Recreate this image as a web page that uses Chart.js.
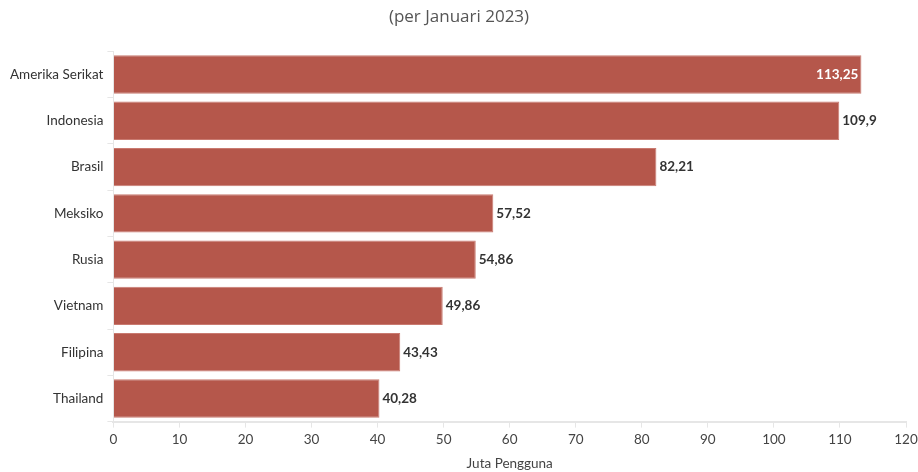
<!DOCTYPE html>
<html>
<head>
<meta charset="utf-8">
<script src="https://cdn.jsdelivr.net/npm/chart.js@4"></script>
<style>
  html, body { margin: 0; padding: 0; background: #fff; }
  #wrap { position: relative; width: 918px; height: 472px; }
</style>
</head>
<body>
<div id="wrap"><canvas id="chart" width="918" height="472"></canvas></div>
<script>
const countries = ['Amerika Serikat', 'Indonesia', 'Brasil', 'Meksiko', 'Rusia', 'Vietnam', 'Filipina', 'Thailand'];
const users = [113.25, 109.9, 82.21, 57.52, 54.86, 49.86, 43.43, 40.28];
const xTicks = [0, 10, 20, 30, 40, 50, 60, 70, 80, 90, 100, 110, 120];

const FONT = 'Lato, "Noto Sans", sans-serif';
const fmt = v => String(v).replace('.', ',');

// value labels at the bar ends; inside in white if the label would not fit
const valueLabels = {
    id: 'valueLabels',
    afterDatasetsDraw(chart) {
        const ctx = chart.ctx;
        const meta = chart.getDatasetMeta(0);
        ctx.save();
        ctx.font = 'bold 13.5px ' + FONT;
        ctx.textBaseline = 'middle';
        meta.data.forEach((bar, i) => {
            const txt = fmt(users[i]);
            const w = ctx.measureText(txt).width;
            if (bar.x + 3 + w > chart.chartArea.right - 6) {
                ctx.fillStyle = '#fff';
                ctx.textAlign = 'right';
                ctx.fillText(txt, bar.x - 3, bar.y);
            } else {
                ctx.fillStyle = '#333';
                ctx.textAlign = 'left';
                ctx.fillText(txt, bar.x + 3, bar.y);
            }
        });
        ctx.restore();
    }
};

new Chart(document.getElementById('chart'), {
    type: 'bar',
    data: {
        labels: countries,
        datasets: [{
            data: users,
            backgroundColor: '#b5574b',
            borderColor: '#c97a70',
            borderWidth: 1,
            categoryPercentage: 1,
            barPercentage: 0.83
        }]
    },
    options: {
        indexAxis: 'y',
        responsive: false,
        animation: false,
        layout: { padding: { left: 6, right: 6, top: 0, bottom: 0 } },
        plugins: {
            legend: { display: false },
            tooltip: { enabled: false },
            title: {
                display: true,
                text: '(per Januari 2023)',
                color: '#555',
                font: { family: '"Open Sans", "Noto Sans", sans-serif', size: 17, weight: 'normal' },
                padding: { top: 7, bottom: 24 }
            }
        },
        scales: {
            x: {
                min: 0,
                max: 120,
                afterBuildTicks: axis => { axis.ticks = xTicks.map(v => ({ value: v })); },
                afterFit: axis => { axis.paddingRight = 12; },
                grid: { display: true, drawOnChartArea: false, color: '#e6e6e6', tickLength: 6 },
                border: { color: '#e6e6e6', width: 2 },
                ticks: { color: '#444', font: { family: FONT, size: 13.5 }, padding: 4, maxRotation: 0 },
                title: {
                    display: true,
                    text: 'Juta Pengguna',
                    color: '#444',
                    font: { family: FONT, size: 13.5 },
                    padding: { top: 4, bottom: 0 }
                }
            },
            y: {
                grid: { display: true, drawOnChartArea: false, color: '#e6e6e6', tickLength: 6 },
                border: { color: '#e6e6e6', width: 1 },
                ticks: { color: '#333', font: { family: FONT, size: 13.5 }, padding: 4 }
            }
        }
    },
    plugins: [valueLabels]
});
</script>
</body>
</html>
